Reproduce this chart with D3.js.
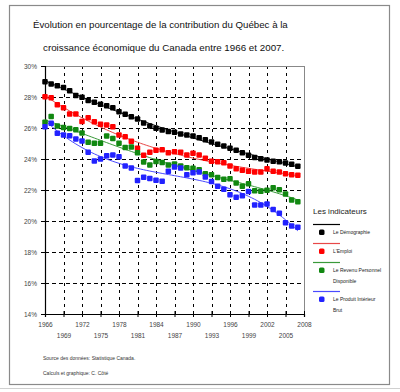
<!DOCTYPE html>
<html><head><meta charset="utf-8">
<script src="https://cdn.jsdelivr.net/npm/d3@7"></script>
<style>html,body{margin:0;padding:0;background:#fff;}svg{display:block;font-family:"Liberation Sans",Arial,sans-serif;}</style>
</head><body><svg id="c" width="400" height="392"></svg>
<script>
const years = d3.range(1966, 2008);
const xTicks = [1966,1969,1972,1975,1978,1981,1984,1987,1990,1993,1996,1999,2002,2005,2008];
const yTicks = [14,16,18,20,22,24,26,28,30];
const demographie = [28.99,28.84,28.73,28.62,28.41,28.10,27.98,27.78,27.66,27.53,27.44,27.31,27.05,26.88,26.72,26.58,26.32,26.13,25.98,25.87,25.77,25.72,25.62,25.55,25.48,25.37,25.24,25.10,24.95,24.84,24.70,24.57,24.40,24.25,24.10,24.01,23.93,23.86,23.82,23.75,23.66,23.53];
const emploi = [28.02,27.95,27.50,27.30,26.90,26.90,26.42,26.66,26.40,26.24,26.19,26.08,25.55,25.44,25.15,24.70,24.25,24.44,24.57,24.60,24.41,24.47,24.43,24.26,24.37,24.26,24.05,23.85,23.82,23.76,23.55,23.37,23.27,23.21,23.16,23.16,23.37,23.21,23.16,23.05,22.99,22.95];
const revenu = [26.37,26.75,26.13,26.04,25.97,25.88,25.67,25.08,25.01,25.01,25.48,25.33,25.01,24.75,24.77,24.40,23.80,23.62,23.84,23.77,23.62,23.68,23.55,23.43,23.41,23.30,23.05,22.99,22.80,22.70,22.72,22.45,22.25,22.40,21.95,21.92,21.98,22.15,22.02,21.75,21.35,21.25];
const pib = [26.08,26.30,25.66,25.55,25.50,25.29,25.16,24.43,23.87,24.00,24.21,24.26,24.15,23.55,23.42,22.62,22.82,22.74,22.63,22.56,23.21,23.48,23.42,22.99,23.12,23.16,22.84,22.55,22.25,22.05,21.69,21.54,21.63,21.90,21.03,21.03,21.10,20.75,20.50,19.89,19.68,19.59];
const seriesNames = ["Le Démographie","L'Emploi","Le Revenu Personnel|Disponible","Le Produit Intérieur|Brut"];
const seriesColors = ["#000000","#ff0000","#118811","#2222ff"];
const lineColors = ["#000000","#e84848","#3a9a3a","#4a4aff"];
const seriesValues = [demographie, emploi, revenu, pib];

const svg = d3.select("#c");
// outer frame
svg.append("line").attr("x1",0).attr("x2",400).attr("y1",388.5).attr("y2",388.5).attr("stroke","#d0d0d0");
svg.append("rect").attr("x",9.5).attr("y",5.5).attr("width",380).attr("height",379).attr("fill","#fff").attr("stroke","#8a8a8a").attr("stroke-width",1.2);

// title
svg.append("text").attr("x",33).attr("y",28).attr("font-size",9.7).attr("fill","#111").text("Évolution en pourcentage de la contribution du Québec à la");
svg.append("text").attr("x",43).attr("y",51).attr("font-size",9.8).attr("fill","#111").text("croissance économique du Canada entre 1966 et 2007.");

const x = d3.scaleLinear().domain([1966,2008]).range([45,304]);
const y = d3.scaleLinear().domain([14,30]).range([314,66]);

const g = svg.append("g");
// grid
g.selectAll(".hg").data(yTicks.filter(d=>d>14 && d<30)).join("line")
  .attr("x1",x(1966)).attr("x2",x(2008)).attr("y1",d=>Math.round(y(d))+0.5).attr("y2",d=>Math.round(y(d))+0.5)
  .attr("stroke","#000").attr("stroke-dasharray","4,3");
g.selectAll(".vg").data(xTicks.filter(d=>d>1966 && d<2008)).join("line")
  .attr("x1",d=>Math.round(x(d))+0.5).attr("x2",d=>Math.round(x(d))+0.5).attr("y1",y(30)).attr("y2",y(14))
  .attr("stroke","#000").attr("stroke-dasharray","3,4");
// top and right borders
g.append("line").attr("x1",x(1966)).attr("x2",x(2008)).attr("y1",y(30)+0.5).attr("y2",y(30)+0.5).attr("stroke","#888");
g.append("line").attr("x1",x(2008)+0.5).attr("x2",x(2008)+0.5).attr("y1",y(30)).attr("y2",y(14)).attr("stroke","#888");

// y axis
const ya = svg.append("g").attr("transform",`translate(${x(1966)},0)`)
  .call(d3.axisLeft(y).tickValues(yTicks).tickFormat(d=>d+"%").tickSize(4).tickPadding(4));
ya.select(".domain").attr("stroke","#000").attr("stroke-width",1.2);
ya.selectAll("text").attr("font-size",6.5).attr("fill","#444").attr("font-family","Liberation Sans,Arial,sans-serif");

// x axis
const xa = svg.append("g").attr("transform",`translate(0,${y(14)})`)
  .call(d3.axisBottom(x).tickValues(xTicks).tickFormat(d3.format("d")).tickSize(3).tickPadding(0));
xa.select(".domain").attr("stroke","#000").attr("stroke-width",1.2);
xa.selectAll(".tick line").attr("y1",-3).attr("y2",3).attr("stroke","#000");
xa.selectAll(".tick text").attr("font-size",6.5).attr("fill","#444").attr("font-family","Liberation Sans,Arial,sans-serif")
  .attr("dy",null).attr("y",(d,i)=> i%2===0 ? 13 : 24);

// trend lines (least-squares polynomial fit of each series)
function polyFit(xs, ys, deg){
  const n = deg+1;
  const A = Array.from({length:n},()=>Array(n+1).fill(0));
  xs.forEach((xv,k)=>{
    for(let i=0;i<n;i++){
      for(let j=0;j<n;j++) A[i][j]+=Math.pow(xv,i+j);
      A[i][n]+=ys[k]*Math.pow(xv,i);
    }
  });
  for(let i=0;i<n;i++){
    let p=i; for(let r=i+1;r<n;r++) if(Math.abs(A[r][i])>Math.abs(A[p][i])) p=r;
    [A[i],A[p]]=[A[p],A[i]];
    for(let r=0;r<n;r++){ if(r===i) continue; const f=A[r][i]/A[i][i]; for(let c=i;c<=n;c++) A[r][c]-=f*A[i][c]; }
  }
  const coef = A.map((row,i)=>row[n]/row[i]);
  return xv => coef.reduce((s,c,i)=>s+c*Math.pow(xv,i),0);
}
const norm = yr => (yr-1986.5)/20.5;
const line = d3.line().x(d=>x(d[0])).y(d=>y(d[1])).curve(d3.curveMonotoneX);
seriesValues.forEach((vals,si)=>{
  const f = polyFit(years.map(norm), vals, 4);
  const pts = d3.range(1966,2007.01,0.5).map(yr=>[yr,f(norm(yr))]);
  svg.append("path").attr("d",line(pts)).attr("fill","none").attr("stroke",lineColors[si]).attr("stroke-width",1);
});
// markers
seriesValues.forEach((vals,si)=>{
  svg.append("g").selectAll("rect").data(vals).join("rect")
    .attr("x",(d,i)=>x(years[i])-2.75).attr("y",d=>y(d)-2.75)
    .attr("width",5.5).attr("height",5.5).attr("rx",1)
    .attr("fill",seriesColors[si]);
});

// legend
const lg = svg.append("g");
lg.append("text").attr("x",313).attr("y",214).attr("font-size",8).attr("fill","#222").text("Les indicateurs");
const ly = [224.5,243.5,262.5,291.5];
seriesNames.forEach((nm,i)=>{
  lg.append("line").attr("x1",313).attr("x2",340).attr("y1",ly[i]).attr("y2",ly[i]).attr("stroke",lineColors[i]).attr("stroke-width",1.2);
  lg.append("rect").attr("x",319).attr("y",ly[i]+5).attr("width",5.5).attr("height",5.5).attr("rx",1.5).attr("fill",seriesColors[i]);
  nm.split("|").forEach((t,k)=>{
    lg.append("text").attr("x",333).attr("y",ly[i]+9.5+k*10.5).attr("font-size",5).attr("fill","#222").text(t);
  });
});

// notes
svg.append("text").attr("x",43).attr("y",360).attr("font-size",5).attr("fill","#333").text("Source des données: Statistique Canada.");
svg.append("text").attr("x",43).attr("y",375).attr("font-size",5).attr("fill","#333").text("Calculs et graphique: C. Côté");
</script></body></html>
